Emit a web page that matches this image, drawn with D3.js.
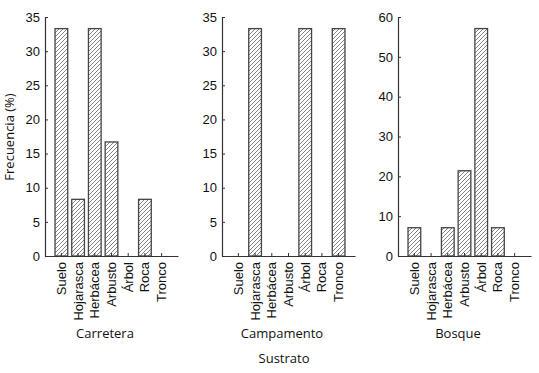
<!DOCTYPE html>
<html>
<head>
<meta charset="utf-8">
<script src="https://cdn.jsdelivr.net/npm/d3@7"></script>
<style>
  body { margin: 0; background: #fff; }
  svg { font-family: "Open Sans", "Noto Sans", sans-serif; }
</style>
</head>
<body>
<svg id="chart" width="539" height="373"></svg>
<script>
// substrate categories
const sustratos = ["Suelo", "Hojarasca", "Herbácea", "Arbusto", "Árbol", "Roca", "Tronco"]

// frequency (%) per site
const carretera = [33.3, 8.3, 33.3, 16.7, 0, 8.3, 0]
const campamento = [0, 33.3, 0, 0, 33.3, 0, 33.3]
const bosque = [7.1, 0, 7.1, 21.4, 57.1, 7.1, 0]

const sitios = ["Carretera", "Campamento", "Bosque"]
const yMaxes = [35, 35, 60]
const yTickSteps = [5, 5, 10]

const svg = d3.select("#chart")

const defs = svg.append("defs")
const pat = defs.append("pattern").attr("id", "hatch").attr("patternUnits", "userSpaceOnUse")
  .attr("width", 4).attr("height", 4)
pat.append("rect").attr("width", 4).attr("height", 4).attr("fill", "#fff")
pat.append("path").attr("d", "M-1,1 l2,-2 M0,4 l4,-4 M3,5 l2,-2")
  .attr("stroke", "#777").attr("stroke-width", 0.9)

const panels = [
  { name: sitios[0], values: carretera, x0: 45 },
  { name: sitios[1], values: campamento, x0: 222 },
  { name: sitios[2], values: bosque, x0: 398 }
]
const panelW = 133
const yTop = 17, yBottom = 256
const ink = "#333"

panels.forEach((p, i) => {
  const x = d3.scaleBand().domain(sustratos).range([p.x0, p.x0 + panelW])
    .paddingInner(0.24).paddingOuter(0.6)
  const y = d3.scaleLinear().domain([0, yMaxes[i]]).range([yBottom, yTop])

  const g = svg.append("g")

  g.selectAll(".bar").data(p.values.map((v, j) => ({ k: sustratos[j], v })).filter((d) => d.v > 0))
    .enter().append("rect").attr("class", "bar")
    .attr("x", (d) => x(d.k)).attr("y", (d) => y(d.v))
    .attr("width", x.bandwidth()).attr("height", (d) => yBottom - y(d.v))
    .attr("fill", "url(#hatch)").attr("stroke", "#444").attr("stroke-width", 1.3)

  // y axis, ticks pointing inward
  const yAxis = d3.axisRight(y).ticks(yMaxes[i] / yTickSteps[i]).tickSize(3).tickSizeOuter(0)
  const ya = g.append("g").attr("transform", `translate(${p.x0},0)`).call(yAxis)
  ya.select(".domain").attr("stroke", ink).attr("stroke-width", 1.2)
  ya.selectAll(".tick line").attr("stroke", ink)
  ya.selectAll(".tick text").attr("x", -5).attr("text-anchor", "end")
    .attr("font-size", 13).attr("fill", "#111")

  // x axis, ticks pointing up
  const xAxis = d3.axisTop(x).tickSize(3).tickSizeOuter(0)
  const xa = g.append("g").attr("transform", `translate(0,${yBottom})`).call(xAxis)
  xa.select(".domain").attr("stroke", ink).attr("stroke-width", 1.2)
  xa.selectAll(".tick line").attr("stroke", ink)
  xa.selectAll(".tick text")
    .attr("transform", "rotate(-90)")
    .attr("x", -6).attr("y", 0).attr("dy", "0.35em")
    .attr("text-anchor", "end").attr("font-size", 13).attr("fill", "#111")

  g.append("text").attr("x", p.x0 + 60).attr("y", 338)
    .attr("text-anchor", "middle").attr("font-size", 13).attr("fill", "#111").text(p.name)
})

svg.append("text").attr("transform", "translate(14,137) rotate(-90)")
  .attr("text-anchor", "middle").attr("font-size", 13).attr("fill", "#111").text("Frecuencia (%)")

svg.append("text").attr("x", 284).attr("y", 363)
  .attr("text-anchor", "middle").attr("font-size", 13).attr("fill", "#111").text("Sustrato")
</script>
</body>
</html>
